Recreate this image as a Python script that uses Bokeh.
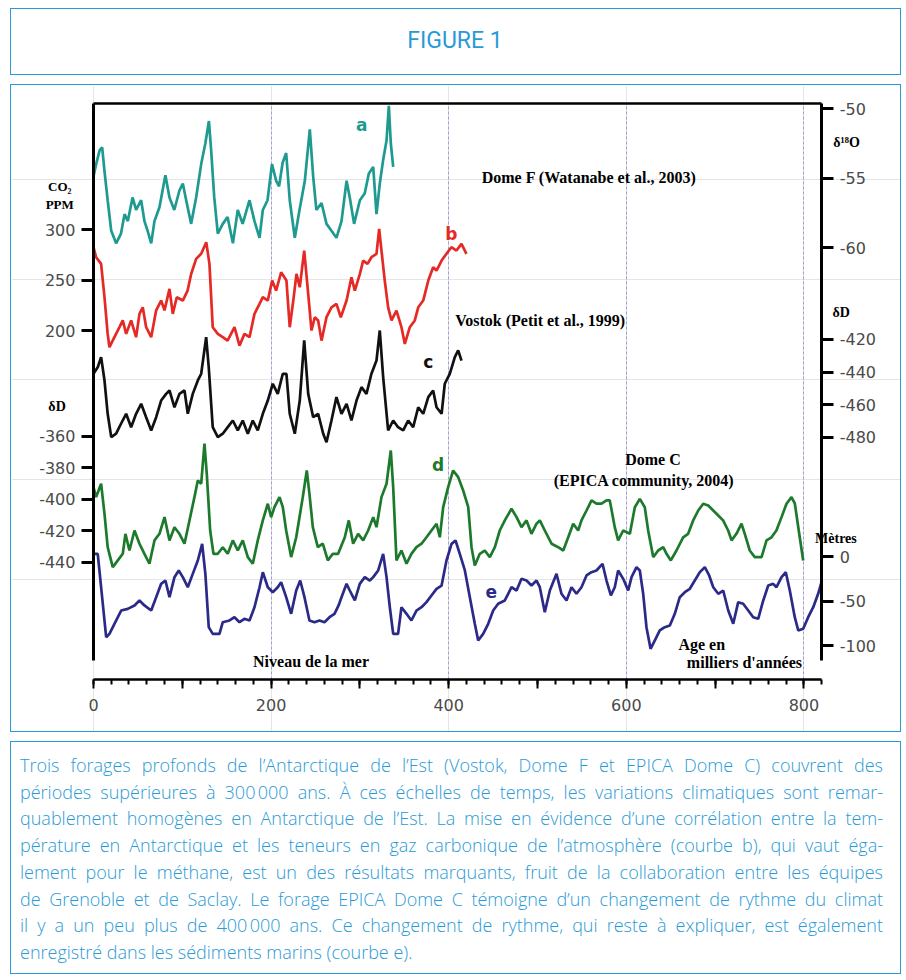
from bokeh.plotting import figure
from bokeh.models import Range1d, LinearAxis, FixedTicker, Label, Div, Grid
from bokeh.layouts import column
from bokeh.embed import file_html
from bokeh.resources import INLINE

# ---------------- data (ages in thousands of years) ----------------
DOMEF_AGE = [0, 3, 7, 9.8, 12.4, 16, 20, 25.5, 31, 35, 38.7, 44, 48, 53.7, 57.4, 61, 65, 68.7,
             74.3, 81, 85.6, 91, 96.8, 100.6, 104.4, 110, 115.6, 121.3, 126, 130, 132.5, 136,
             140, 145.6, 151, 157, 162.5, 168, 175.7, 181.3, 187, 190.7, 196, 201, 205.7, 209,
             213, 217, 221, 226.7, 232, 238, 243.6, 247.4, 251, 256.8, 262.4, 268, 273.6, 279.3,
             285, 288.6, 293.5, 300, 305.5, 310, 315, 318.7, 322.4, 326.2, 330, 332.6, 334.8, 337.5]
DOMEF_D18O = [-54.9, -54.0, -53.0, -52.8, -54.5, -56.6, -58.8, -59.7, -59.0, -57.6, -58.1, -56.4,
              -57.3, -56.6, -58.1, -58.8, -59.7, -58.1, -57.1, -54.8, -56.4, -57.3, -55.9, -55.4,
              -56.6, -58.3, -56.4, -54.0, -52.5, -50.9, -53.0, -56.4, -59.0, -58.3, -57.8, -59.7,
              -57.3, -58.3, -56.6, -58.1, -59.3, -57.3, -56.6, -54.0, -55.2, -55.6, -53.9, -53.2,
              -56.6, -59.3, -57.3, -55.2, -51.5, -54.9, -57.3, -56.8, -58.3, -58.8, -59.3, -58.1,
              -55.2, -56.4, -58.3, -56.6, -56.1, -54.7, -54.2, -57.6, -55.4, -53.7, -52.3, -49.8,
              -52.5, -54.2]

CO2_AGE = [0, 3, 8.6, 12.4, 16, 18, 23.6, 29.3, 33, 36.8, 42.4, 48, 51.8, 55.5, 59.3, 65, 70.6,
           76.2, 80, 85.6, 89.3, 93.8, 100.6, 106, 110, 115.6, 121.3, 127, 130.6, 134.3, 140,
           145.6, 151, 158.8, 164.4, 170, 175.7, 181.3, 187, 190.7, 196.3, 201.2, 205.7, 211.3,
           217.3, 221, 225, 228.6, 232.3, 237.3, 241.8, 245.5, 249.2, 253, 256.8, 262.4, 268,
           273.6, 278.5, 285, 290.5, 294.3, 300, 303.7, 308.6, 313, 318.7, 321.7, 324.3, 328,
           331.8, 335.6, 341.2, 346.8, 350.6, 356.2, 361.8, 365.7, 371.3, 377, 382.5, 386.3,
           392, 397.5, 403, 408.8, 414.4, 420]
CO2_PPM = [282.5, 272.6, 266, 233, 196.7, 183.5, 193.4, 203.3, 210, 196.7, 210, 193.4, 216.5, 223,
           203.3, 193.4, 220, 229.7, 220, 241.3, 216.5, 233, 229.7, 239.6, 256, 271, 276, 287.4,
           266, 203.3, 196.7, 193.4, 190, 203.3, 185, 196.7, 193.4, 216.5, 226.4, 233, 229.7,
           249.5, 239.6, 257.7, 249.5, 203.3, 229.7, 256.1, 242.9, 279.2, 236.3, 200, 213.2, 210,
           190, 213.2, 223, 226.4, 213.2, 229.7, 252.8, 239.6, 256.1, 269.3, 266, 272.6, 276,
           300.7, 279.2, 249.5, 223, 210, 219.8, 203.3, 186.8, 203.3, 210, 223, 229.7, 249.5,
           262.7, 259.4, 269.3, 276, 282.5, 279.2, 285.8, 276]

VOSTOK_AGE = [0, 4.8, 8.6, 12.4, 16, 20, 25.5, 31, 36.8, 42.4, 48, 53.7, 59.3, 65, 70.6, 76.2,
              81.8, 85.6, 91.2, 96.8, 102.5, 106.2, 111.8, 117.5, 121.3, 126.9, 129.8, 134.3, 140,
              145.6, 151.2, 156.9, 162.5, 168.1, 173.8, 179.4, 185, 190.7, 196.3, 201.9, 207.5,
              213.2, 217.3, 221, 226.7, 232.3, 237.3, 241.8, 247.4, 253, 258.7, 262.4, 268, 273.6,
              279.3, 285, 290.5, 296.2, 301.8, 307.4, 313, 318.7, 322.4, 326.2, 331.8, 337.5, 343,
              348.8, 354.4, 360, 365.7, 371.3, 377, 382.5, 386.3, 392, 395.6, 401.2, 406.9, 410.7,
              414.4]
VOSTOK_DD = [-441, -437, -430.8, -445, -465.5, -479.8, -477.7, -471.6, -465.5, -473.7, -465.5,
             -459.4, -467.6, -475.7, -467.6, -457.4, -453.3, -451.2, -461.5, -453.3, -451.2,
             -465.5, -453.3, -445.1, -441, -418.6, -437, -473.7, -479.8, -477.7, -473.7, -469.6,
             -475.7, -469.6, -477.7, -469.6, -475.7, -465.5, -457.4, -447.1, -453.3, -441, -441,
             -465.5, -477.7, -457.4, -420.6, -453.3, -467.6, -465.5, -477.7, -482.9, -469.6,
             -455.3, -465.5, -459.4, -469.6, -457.4, -449.2, -453.3, -441, -432.9, -414.5, -443.1,
             -475.7, -469.6, -473.7, -475.7, -469.6, -473.7, -461.5, -465.5, -455.3, -451.2,
             -461.5, -465.5, -447.1, -441, -430.8, -426.7, -432.9]

EPICA_AGE = [0, 3, 8.6, 12.4, 16, 21.7, 27.4, 33, 36, 40.5, 46.2, 51.8, 57.4, 63, 68.7, 74.3, 80,
             85.6, 91.2, 96.8, 102.5, 108.1, 113.7, 117.5, 121.3, 125, 127.6, 131.4, 135.1, 140,
             145.6, 151.2, 156.9, 162.5, 168.1, 173.8, 179.4, 185, 190.7, 196.3, 200.1, 203.8,
             209.5, 213.2, 217, 222.6, 228.3, 235.7, 240.2, 243.2, 247, 252.6, 258.2, 263.9, 269.5,
             275.5, 283, 287.5, 292.4, 298, 303.7, 309.3, 315, 318.7, 324.3, 330, 334.8, 337.5,
             341.2, 346.8, 352.5, 358, 363.7, 369.4, 375, 380.6, 386.3, 390, 393.8, 399.4, 405,
             410.7, 416.3, 422, 425.7, 429.4, 435, 440.6, 446.3, 452, 457.5, 463.2, 470.7, 476.4,
             482, 487.6, 493.2, 498.9, 502.6, 508.2, 515.8, 523.3, 529, 534.6, 540.2, 545.8, 549.5,
             555.2, 560.8, 566.4, 572, 577.7, 581.4, 587, 590.8, 596.5, 604, 609.6, 615.2, 620.8,
             624.6, 630.3, 635.9, 641.6, 645.3, 650.1, 656.5, 664, 669.6, 675.3, 681, 686.6, 692.2,
             697.9, 703.5, 709, 714.7, 718.5, 724, 729.7, 733.4, 739, 744.7, 752.3, 757.9, 763.5,
             769, 774.8, 780.4, 786, 789.8, 794.7, 799.2]
EPICA_DD = [-392.2, -398.5, -390, -409, -430.3, -443, -438.7, -434.5, -421.8, -432.4, -419.7,
            -428.1, -434.5, -440.8, -426, -421.8, -411.2, -426, -417.6, -421.8, -428.1, -413.3,
            -398.5, -387.9, -390, -364.6, -383.7, -419.7, -434.5, -434.5, -430.3, -434.5, -426,
            -432.4, -426, -436.6, -440.8, -426, -413.3, -402.7, -411.2, -404.9, -398.5, -404.9,
            -419.7, -436.6, -424, -398.5, -381.6, -396.4, -417.6, -430.3, -428.1, -438.7, -434.5,
            -434.5, -424, -413.3, -428.1, -421.8, -426, -419.7, -411.2, -417.6, -398.5, -390,
            -368.9, -392.2, -438.7, -432.4, -440.8, -434.5, -430.3, -428.1, -424, -419.7, -415.4,
            -424, -404.9, -392.2, -381.6, -385.8, -394.3, -404.9, -430.3, -441.9, -434.5, -432.4,
            -436.6, -430.3, -419.7, -413.3, -405.9, -411.2, -417.6, -413.3, -421.8, -415.4,
            -413.3, -419.7, -428.1, -430.3, -432.4, -424, -415.4, -419.7, -413.3, -407, -400.6,
            -402.7, -402.7, -400.6, -400.6, -417.6, -426, -419.7, -421.8, -404.9, -399.6, -404.9,
            -419.7, -436.6, -432.4, -430.3, -434.5, -438.7, -432.4, -424, -421.8, -413.3, -407,
            -402.7, -403.8, -407, -410.2, -413.3, -419.7, -426, -421.8, -415.4, -421.8, -432.4,
            -436.6, -436.6, -426, -424, -419.7, -411.2, -402.7, -398.5, -402.7, -421.8, -438.7]

SEA_AGE = [0, 4.8, 8.6, 14.3, 18, 23.6, 31.2, 38.6, 46.2, 51.8, 57.4, 65, 70.6, 76.2, 81, 85.6,
           91.2, 96, 100.6, 106.2, 111.8, 117.5, 122.4, 126, 129.8, 134.3, 141.9, 145.6, 153.2,
           158.8, 164.4, 170, 175.7, 181.3, 187, 190.7, 196.3, 201.9, 207.5, 211.3, 217, 222.6,
           228.3, 232.8, 237.6, 243.2, 248.9, 254.5, 260.1, 265.8, 271.4, 276, 279.3, 285, 288.6,
           294.3, 299.9, 305.5, 311.2, 315, 320.6, 326.2, 330, 333.7, 337.5, 343, 346.8, 352.5,
           358, 363.7, 369.4, 375, 380.6, 386.3, 392, 397.5, 403.2, 407.7, 412.5, 418.2, 423.8,
           429.4, 433.2, 438.8, 444.5, 450.1, 455.7, 463.2, 470.7, 476.4, 482, 487.6, 493.2,
           498.9, 502.6, 508.2, 513.9, 521.4, 527, 532.7, 538.3, 543.9, 549.5, 555.2, 560.8,
           566.4, 573.2, 577.7, 582.6, 587, 590.8, 596.5, 602.1, 605.9, 611.5, 615.2, 619, 622.7,
           627.3, 632, 637.7, 643.3, 649, 654.6, 660.2, 665.9, 671.5, 677.1, 682.8, 688.4, 693.3,
           697.9, 703.5, 709.1, 714.8, 720.4, 726, 731.6, 737.3, 742.9, 748.5, 754.2, 759.8,
           765.4, 769.1, 774.8, 779.6, 784.1, 789.7, 793.6, 799.2, 804.8, 810.5, 816, 819.8]
SEA_M = [3, 3, -34.5, -90.7, -86.9, -75.6, -60.7, -58.8, -55, -49.4, -55, -60.7, -45.7, -30.7,
         -27, -45.7, -23.2, -15.7, -23.2, -34.5, -19.5, -4.5, 14.2, -19.5, -79.4, -86.9, -86.9,
         -73.8, -71.9, -68.2, -73.8, -70, -71.9, -57, -34.5, -17.6, -34.5, -40.1, -34.5, -28.9,
         -45.7, -64.4, -38.2, -27, -45.7, -71.9, -73.8, -71.9, -73.8, -68.2, -64.4, -55, -45.7,
         -30.7, -38.2, -49.4, -30.7, -23.2, -27, -23.2, -15.7, 3, -23.2, -57, -86.9, -86.9, -57,
         -64.4, -71.9, -60.7, -57, -51.3, -43.8, -36.3, -32.6, -4.5, 14.2, 18, 3, -15.7, -45.7,
         -75.6, -94.4, -86.9, -75.6, -60.7, -53.1, -49.4, -34.5, -38.2, -25.1, -27, -32.6, -27,
         -34.5, -62.6, -38.2, -19.5, -41.9, -49.4, -34.5, -41.9, -34.5, -21.3, -17.6, -15.7,
         -8.2, -27, -43.8, -34.5, -15.7, -25.1, -38.2, -23.2, -12, -15.7, -41.9, -79.4, -103.7,
         -94.4, -83.1, -79.4, -77.5, -64.4, -45.7, -40.1, -36.3, -27, -17.6, -12, -21.3, -34.5,
         -41.9, -38.2, -60.7, -75.6, -51.3, -53.1, -60.7, -68.2, -70, -49.4, -32.6, -30.7, -34.5,
         -23.2, -17.6, -38.2, -68.2, -83.1, -81.2, -68.2, -57, -41.9, -28.9]

# tick values and labels for each scale
CO2_TICKS = [300, 250, 200]
EPICA_TICKS = [-360, -380, -400, -420, -440]
D18O_TICKS = [-50, -55, -60]
VOSTOK_TICKS = [-420, -440, -460, -480]
SEA_TICKS = [0, -50, -100]
AGE_TICKS = [0, 100, 200, 300, 400, 500, 600, 700, 800]
AGE_LABELS = ["0", "", "200", "", "400", "", "600", "", "800"]
AGE_MINOR = list(range(0, 821, 20))
GRID_AGES = [200, 400, 600, 800]

# ---------------- scales ----------------
AGE_SPAN = (0, 820)            # extent of the age axis
X_RANGE = (-92.3, 911.0)       # whole canvas in age units (room for outside texts)
H = 576.0                      # height of the plotting area in main units
Y_RANGE = (-54.0, 594.0)       # whole canvas in main units
# value of each scale at the bottom (0) and top (H) of the plotting area
CO2_SCALE = (-145.5, 424.8)
EPICA_SCALE = (-514.3, -148.6)
D18O_SCALE = (-91.08, -49.64)
VOSTOK_SCALE = (-628.2, -275.5)
SEA_SCALE = (-138.2, 509.0)


def pos(v, sc):
    return (v - sc[0]) / (sc[1] - sc[0]) * H


def canvas_range(sc):
    k = (sc[1] - sc[0]) / H
    return Range1d(sc[0] + k * Y_RANGE[0], sc[0] + k * Y_RANGE[1])


BLUE = "#2a9ad6"
TEAL = "#1e9a90"
RED = "#e52a25"
BLACK = "#111111"
GREEN = "#1d7a2d"
NAVY = "#2b2a88"
TICK_TXT = "#4a4a4a"
SERIF = "Liberation Serif"

p = figure(width=891, height=648, x_range=Range1d(*X_RANGE), y_range=Range1d(*Y_RANGE),
           output_backend="svg", toolbar_location=None,
           x_axis_location=None, y_axis_location=None,
           min_border_left=0, min_border_right=0, min_border_top=0, min_border_bottom=0,
           outline_line_color=None, background_fill_color="white", border_fill_color="white")
p.margin = (0, 0, 0, 10)
p.styles = {"border": f"1.5px solid {BLUE}", "box-sizing": "border-box"}

p.extra_y_ranges = {
    "co2": canvas_range(CO2_SCALE),
    "epica": canvas_range(EPICA_SCALE),
    "d18o": canvas_range(D18O_SCALE),
    "vostok": canvas_range(VOSTOK_SCALE),
    "sea": canvas_range(SEA_SCALE),
}

# vertical lavender grid lines, limited to the plotting area
g = Grid(dimension=0, ticker=FixedTicker(ticks=GRID_AGES), grid_line_color="#8c8cd6",
         grid_line_alpha=0.8, grid_line_dash="3 2", grid_line_width=1)
if "cross_bounds" in Grid.properties():
    g.cross_bounds = (0, H)
    p.add_layout(g)
else:
    p.segment(x0=GRID_AGES, x1=GRID_AGES, y0=[0] * len(GRID_AGES), y1=[H] * len(GRID_AGES),
              line_color="#8c8cd6", line_alpha=0.8, line_dash="3 2", line_width=1)

# curves
LW = 2.7
p.line(DOMEF_AGE, DOMEF_D18O, y_range_name="d18o", line_color=TEAL, line_width=LW)
p.line(CO2_AGE, CO2_PPM, y_range_name="co2", line_color=RED, line_width=LW)
p.line(VOSTOK_AGE, VOSTOK_DD, y_range_name="vostok", line_color=BLACK, line_width=LW)
p.line(EPICA_AGE, EPICA_DD, y_range_name="epica", line_color=GREEN, line_width=LW)
p.line(SEA_AGE, SEA_M, y_range_name="sea", line_color=NAVY, line_width=LW)

# x axis (bottom)
xa = LinearAxis(fixed_location=0, bounds=AGE_SPAN,
                ticker=FixedTicker(ticks=AGE_TICKS, minor_ticks=AGE_MINOR))
xa.major_label_overrides = {t: l for t, l in zip(AGE_TICKS, AGE_LABELS)}
xa.axis_line_width = 2.5
xa.major_tick_line_width = 2
xa.minor_tick_line_width = 2
xa.major_tick_out = 9
xa.major_tick_in = 0
xa.minor_tick_out = 5
xa.minor_tick_in = 0
xa.major_label_standoff = 10
xa.major_label_text_font = "DejaVu Sans"
xa.major_label_text_font_size = "16px"
xa.major_label_text_color = TICK_TXT
p.add_layout(xa, "below")

# left axis: CO2 + EPICA dD
left_pos = [pos(v, CO2_SCALE) for v in CO2_TICKS] + [pos(v, EPICA_SCALE) for v in EPICA_TICKS]
left_lab = [str(v) for v in CO2_TICKS] + [str(v) for v in EPICA_TICKS]
ya = LinearAxis(fixed_location=AGE_SPAN[0], ticker=FixedTicker(ticks=left_pos, minor_ticks=[]))
ya.major_label_overrides = dict(zip(left_pos, left_lab))

# right axis: d18O + Vostok dD + sea level
right_pos = ([pos(v, D18O_SCALE) for v in D18O_TICKS] + [pos(v, VOSTOK_SCALE) for v in VOSTOK_TICKS]
             + [pos(v, SEA_SCALE) for v in SEA_TICKS])
right_lab = [str(v) for v in D18O_TICKS] + [str(v) for v in VOSTOK_TICKS] + [str(v) for v in SEA_TICKS]
yr = LinearAxis(fixed_location=AGE_SPAN[1], ticker=FixedTicker(ticks=right_pos, minor_ticks=[]))
yr.major_label_overrides = dict(zip(right_pos, right_lab))

for ax in (ya, yr):
    ax.bounds = (19, H)
    ax.axis_line_width = 3
    ax.major_tick_line_width = 3
    ax.major_tick_out = 12
    ax.major_tick_in = 0
    ax.minor_tick_out = 0
    ax.minor_tick_in = 0
    ax.major_label_standoff = 6
    ax.major_label_text_font = "DejaVu Sans"
    ax.major_label_text_font_size = "16px"
    ax.major_label_text_color = TICK_TXT
p.add_layout(ya, "left")
p.add_layout(yr, "right")

# top border line
top = LinearAxis(fixed_location=H, bounds=AGE_SPAN, ticker=FixedTicker(ticks=[], minor_ticks=[]),
                 axis_line_width=2.5, major_tick_out=0, major_tick_in=0)
p.add_layout(top, "above")


# text annotations
def lab(text, x, y, rng, size="15px", color="black", font=SERIF, style="bold", align="center"):
    p.add_layout(Label(x=x, y=y, text=text, text_font=font, text_font_size=size,
                       text_color=color, text_font_style=style, text_align=align,
                       text_baseline="middle", y_range_name=rng))


lab("CO₂", -38, 343, "co2", size="13px")
lab("PPM", -38, 325, "co2", size="13px")
lab("δD", -41, -341, "epica", size="14px")
lab("δ¹⁸O", 848, -52.45, "d18o", size="14px")
lab("δD", 842, -403.5, "vostok", size="14px")
lab("Mètres", 836, 20, "sea", size="14px")

lab("a", 302, -51.2, "d18o", size="17px", color=TEAL, font="DejaVu Sans")
lab("b", 403, 296, "co2", size="17px", color=RED, font="DejaVu Sans")
lab("c", 377, -433.5, "vostok", size="17px", color=BLACK, font="DejaVu Sans")
lab("d", 388, -377.8, "epica", size="17px", color=GREEN, font="DejaVu Sans")
lab("e", 448, -39.3, "sea", size="17px", color=NAVY, font="DejaVu Sans")

lab("Dome F (Watanabe et al., 2003)", 558, -54.96, "d18o", size="16px")
lab("Vostok (Petit et al., 1999)", 503, -408.4, "vostok", size="16px")
lab("Dome C", 630, -374.6, "epica", size="16px")
lab("(EPICA community, 2004)", 620, -387.9, "epica", size="16px")
lab("Niveau de la mer", 245, -118, "sea", size="16px")
lab("Age en", 685, -98.9, "sea", size="16px")
lab("milliers d'années", 733, -119.1, "sea", size="16px")

# ---------------- title and caption boxes ----------------
title = Div(text=('<div style="width:888px;height:64px;line-height:64px;text-align:center;'
                  'font-family:\'Liberation Sans Narrow\',\'Roboto\',sans-serif;font-size:23px;'
                  f'color:{BLUE};font-weight:400;">FIGURE 1</div>'),
            width=891, height=67, margin=(8, 0, 0, 10),
            styles={"border": f"1.5px solid {BLUE}", "box-sizing": "border-box", "background": "white"})

CAPTION_LINES = [
    "Trois forages profonds de l’Antarctique de l’Est (Vostok, Dome F et EPICA Dome C) couvrent des",
    "périodes supérieures à 300\u202f000 ans. À ces échelles de temps, les variations climatiques sont remar-",
    "quablement homogènes en Antarctique de l’Est. La mise en évidence d’une corrélation entre la tem-",
    "pérature en Antarctique et les teneurs en gaz carbonique de l’atmosphère (courbe b), qui vaut éga-",
    "lement pour le méthane, est un des résultats marquants, fruit de la collaboration entre les équipes",
    "de Grenoble et de Saclay. Le forage EPICA Dome C témoigne d’un changement de rythme du climat",
    "il y a un peu plus de 400\u202f000 ans. Ce changement de rythme, qui reste à expliquer, est également",
    "enregistré dans les sédiments marins (courbe e).",
]
rows = []
for i, line in enumerate(CAPTION_LINES):
    last = "left" if i == len(CAPTION_LINES) - 1 else "justify"
    rows.append(f'<div style="text-align:justify;text-align-last:{last};white-space:nowrap;">{line}</div>')
caption = Div(text=('<div style="width:872px;padding:10px 0 0 9px;font-family:\'Open Sans\',sans-serif;'
                    f'font-weight:300;font-size:18px;line-height:26.7px;color:{BLUE};">'
                    + "".join(rows) + "</div>"),
              width=891, height=233, margin=(0, 0, 0, 10),
              styles={"border": f"1.5px solid {BLUE}", "box-sizing": "border-box", "background": "white"})

layout = column(title, p, caption, spacing=9)
open("out.html", "w").write(file_html(layout, INLINE))
